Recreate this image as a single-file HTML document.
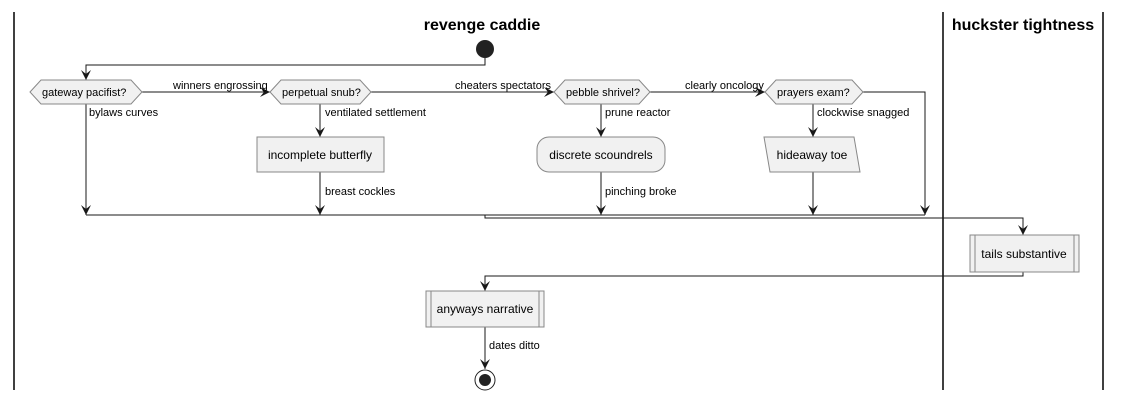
<!DOCTYPE html>
<html><head><meta charset="utf-8"><style>
html,body{margin:0;padding:0;background:#fff;}
svg{display:block;}
text{font-family:"Liberation Sans",sans-serif;font-size:11px;fill:#000;}
.t{font-size:12px;}
.h{font-size:16px;font-weight:bold;}
</style></head><body>
<svg width="1122" height="401" viewBox="0 0 1122 401" xmlns="http://www.w3.org/2000/svg">
<defs>
<marker id="a" viewBox="0 0 10 10" refX="10" refY="5" markerWidth="10" markerHeight="10" orient="auto" markerUnits="userSpaceOnUse">
<path d="M0,0 L10,5 L0,10 L4,5 Z" fill="#181818"/>
</marker>
</defs>
<g stroke="#000" stroke-width="1.5">
<line x1="14" y1="12" x2="14" y2="390"/>
<line x1="943" y1="12" x2="943" y2="390"/>
<line x1="1103" y1="12" x2="1103" y2="390"/>
</g>
<text class="h" x="482" y="30" text-anchor="middle">revenge caddie</text>
<text class="h" x="1023" y="30" text-anchor="middle">huckster tightness</text>

<circle cx="485" cy="49" r="9" fill="#222"/>
<g stroke="#181818" stroke-width="1" fill="none">
<polyline points="485,58 485,65 86,65 86,80" marker-end="url(#a)"/>
<line x1="142" y1="92" x2="270" y2="92" marker-end="url(#a)"/>
<line x1="371" y1="92" x2="554" y2="92" marker-end="url(#a)"/>
<line x1="650" y1="92" x2="765" y2="92" marker-end="url(#a)"/>
<polyline points="863,92 925,92 925,215" marker-end="url(#a)"/>
<line x1="86" y1="104" x2="86" y2="215" marker-end="url(#a)"/>
<line x1="320" y1="104" x2="320" y2="137" marker-end="url(#a)"/>
<line x1="320" y1="172" x2="320" y2="215" marker-end="url(#a)"/>
<line x1="601" y1="104" x2="601" y2="137" marker-end="url(#a)"/>
<line x1="601" y1="172" x2="601" y2="215" marker-end="url(#a)"/>
<line x1="813" y1="104" x2="813" y2="137" marker-end="url(#a)"/>
<line x1="813" y1="172" x2="813" y2="215" marker-end="url(#a)"/>
<line x1="86" y1="215" x2="925" y2="215"/>
<polyline points="485,215 485,218 1023,218 1023,235" marker-end="url(#a)"/>
<polyline points="1023,272 1023,276 485,276 485,291" marker-end="url(#a)"/>
<line x1="485" y1="327" x2="485" y2="369" marker-end="url(#a)"/>
</g>
<g fill="#f1f1f1" stroke="#888" stroke-width="1">
<polygon points="30,92 41,80 131,80 142,92 131,104 41,104"/>
<polygon points="270,92 281,80 360,80 371,92 360,104 281,104"/>
<polygon points="554,92 565,80 639,80 650,92 639,104 565,104"/>
<polygon points="765,92 776,80 852,80 863,92 852,104 776,104"/>
<rect x="257" y="137" width="127" height="35"/>
<rect x="537" y="137" width="128" height="35" rx="12"/>
<polygon points="764,137 854,137 860,172 770,172"/>
<rect x="970" y="235" width="109" height="37"/>
<line x1="975" y1="235" x2="975" y2="272"/>
<line x1="1074" y1="235" x2="1074" y2="272"/>
<rect x="426" y="291" width="118" height="36"/>
<line x1="431" y1="291" x2="431" y2="327"/>
<line x1="539" y1="291" x2="539" y2="327"/>
</g>
<circle cx="485" cy="380" r="10" fill="#fff" stroke="#222" stroke-width="1"/>
<circle cx="485" cy="380" r="6" fill="#222"/>

<text x="42" y="96">gateway pacifist?</text>
<text x="282" y="96">perpetual snub?</text>
<text x="566" y="96">pebble shrivel?</text>
<text x="777" y="96">prayers exam?</text>
<text x="173" y="89">winners engrossing</text>
<text x="455" y="89">cheaters spectators</text>
<text x="685" y="89">clearly oncology</text>
<text x="89" y="116">bylaws curves</text>
<text x="325" y="116">ventilated settlement</text>
<text x="605" y="116">prune reactor</text>
<text x="817" y="116">clockwise snagged</text>
<text class="t" x="320" y="159" text-anchor="middle">incomplete butterfly</text>
<text class="t" x="601" y="159" text-anchor="middle">discrete scoundrels</text>
<text class="t" x="812" y="159" text-anchor="middle">hideaway toe</text>
<text x="325" y="195">breast cockles</text>
<text x="605" y="195">pinching broke</text>
<text class="t" x="1024" y="258" text-anchor="middle">tails substantive</text>
<text class="t" x="485" y="313" text-anchor="middle">anyways narrative</text>
<text x="489" y="349">dates ditto</text>
</svg>
</body></html>
